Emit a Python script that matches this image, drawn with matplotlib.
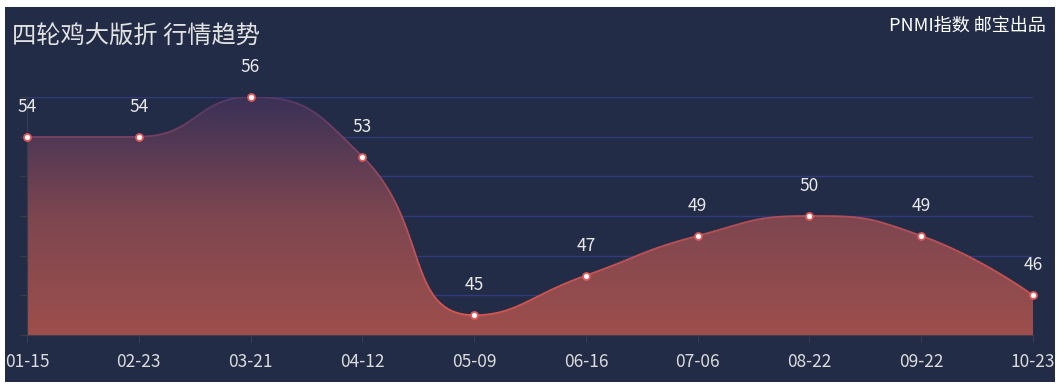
import numpy as np
import matplotlib
matplotlib.use('Agg')
import matplotlib.pyplot as plt
from matplotlib.patches import PathPatch
from matplotlib.path import Path
from matplotlib.collections import LineCollection
from matplotlib.colors import LinearSegmentedColormap

plt.rcParams['font.family'] = ['Noto Sans CJK SC', 'DejaVu Sans']

# ---- data ----
dates = ['01-15', '02-23', '03-21', '04-12', '05-09', '06-16', '07-06', '08-22', '09-22', '10-23']
values = [54, 54, 56, 53, 45, 47, 49, 50, 49, 46]
title = '四轮鸡大版折 行情趋势'
subtitle = 'PNMI指数 邮宝出品'
y_min, y_max, y_step = 44, 56, 2

W, H = 1061, 389
fig = plt.figure(figsize=(W / 100, H / 100), dpi=100, facecolor='white')
bg = fig.add_axes([5 / W, (H - 382) / H, (1055 - 5) / W, (382 - 7) / H])
bg.set_facecolor('#232c47')
bg.set_xticks([]); bg.set_yticks([])
for s in bg.spines.values():
    s.set_visible(False)

ax_l, ax_r, ax_t, ax_b = 27, 1033, 97, 335
ax = fig.add_axes([ax_l / W, (H - ax_b) / H, (ax_r - ax_l) / W, (ax_b - ax_t) / H])
ax.patch.set_alpha(0)
n = len(values)
x = np.arange(n)
ax.set_xlim(0, n - 1)
ax.set_ylim(y_min, y_max)

# echarts-like smoothing (in pixel space)
sx = (ax_r - ax_l) / (n - 1)
sy = (ax_b - ax_t) / (y_max - y_min)
px = x * sx
py = np.array(values, dtype=float) * sy
smooth = 0.5


def bez(p0, c0, c1, p1, m=40):
    t = np.linspace(0, 1, m)[:, None]
    return ((1 - t) ** 3) * p0 + 3 * ((1 - t) ** 2) * t * c0 + 3 * (1 - t) * t ** 2 * c1 + t ** 3 * p1


curve = [np.array([[px[0], py[0]]])]
cp0 = np.array([px[0], py[0]])
for k in range(1, n):
    xk, yk = px[k], py[k]
    prevX, prevY = px[k - 1], py[k - 1]
    if k == n - 1:
        cp1 = np.array([xk, yk])
        ncp0 = None
    else:
        nextX, nextY = px[k + 1], py[k + 1]
        vx, vy = nextX - prevX, nextY - prevY
        lp = np.hypot(xk - prevX, yk - prevY)
        ln = np.hypot(nextX - xk, nextY - yk)
        r = ln / (ln + lp)
        ncx = xk + vx * smooth * r
        ncy = yk + vy * smooth * r
        ncx = min(ncx, max(nextX, xk)); ncy = min(ncy, max(nextY, yk))
        ncx = max(ncx, min(nextX, xk)); ncy = max(ncy, min(nextY, yk))
        vx, vy = ncx - xk, ncy - yk
        c1x = xk - vx * lp / ln
        c1y = yk - vy * lp / ln
        c1x = min(c1x, max(prevX, xk)); c1y = min(c1y, max(prevY, yk))
        c1x = max(c1x, min(prevX, xk)); c1y = max(c1y, min(prevY, yk))
        vx, vy = xk - c1x, yk - c1y
        ncp0 = np.array([xk + vx * ln / lp, yk + vy * ln / lp])
        cp1 = np.array([c1x, c1y])
    seg = bez(np.array([prevX, prevY]), cp0, cp1, np.array([xk, yk]))
    curve.append(seg[1:])
    cp0 = ncp0
curve = np.vstack(curve)
cx = curve[:, 0] / sx
cy = curve[:, 1] / sy

# gradient area
grad = np.linspace(0, 1, 256).reshape(-1, 1)
area_cmap = LinearSegmentedColormap.from_list('area', ['#9d4f4c', '#7d4650', '#3a3157'])
im = ax.imshow(grad, extent=[0, n - 1, y_min, y_max], origin='lower', cmap=area_cmap,
               aspect='auto', zorder=2, interpolation='bilinear')
verts = np.vstack([np.column_stack([cx, cy]), [[n - 1, y_min], [0, y_min], [cx[0], cy[0]]]])
clip = PathPatch(Path(verts, closed=True), transform=ax.transData, facecolor='none', edgecolor='none')
ax.add_patch(clip)
im.set_clip_path(clip)

# grid lines
for gy in np.arange(y_min + y_step, y_max + 0.1, y_step):
    ax.axhline(gy, color='#2f3b7c', lw=1.0, zorder=1)

# gradient line
pts = np.column_stack([cx, cy]).reshape(-1, 1, 2)
segs = np.concatenate([pts[:-1], pts[1:]], axis=1)
line_cmap = LinearSegmentedColormap.from_list('line', ['#e2584e', '#b54f58', '#5a3a66'])
lc = LineCollection(segs, cmap=line_cmap, norm=plt.Normalize(y_min, y_max), lw=1.3, zorder=3)
lc.set_array((cy[:-1] + cy[1:]) / 2)
ax.add_collection(lc)

# markers
ax.plot(x, values, 'o', ms=5, mfc='white', mec='#e35a5a', mew=1.3, zorder=5, clip_on=False)

# value labels
for i, v in enumerate(values):
    ax.annotate(str(v), (i, v), xytext=(0, 21.5), textcoords='offset points',
                ha='center', va='center', color='#e8e8e8', fontsize=12.5,
                fontweight='medium', zorder=6)

# axes styling
for s in ['top', 'right']:
    ax.spines[s].set_visible(False)
ax.spines['left'].set_color('#3a3c48')
ax.spines['bottom'].set_color('#4a3f48')
ax.spines['left'].set_zorder(4)
ax.spines['bottom'].set_zorder(4)
ax.set_xticks(x)
ax.set_xticklabels(dates, fontweight='medium')
ax.set_yticks(np.arange(y_min, y_max + 0.1, y_step))
ax.set_yticklabels([])
ax.tick_params(axis='x', length=5, color='#3a3c48', labelcolor='#dcdcdc', labelsize=12.5, pad=8)
ax.tick_params(axis='y', length=5, color='#3a3c48')

fig.text(12 / W, 1 - 37 / H, title, ha='left', va='center', fontsize=17.5,
         fontweight='medium', color='#e2e2e2')
fig.text(1046 / W, 1 - 26 / H, subtitle, ha='right', va='center', fontsize=13,
         fontweight='medium', color='white')

fig.savefig('out.png', dpi=100, facecolor='white')
